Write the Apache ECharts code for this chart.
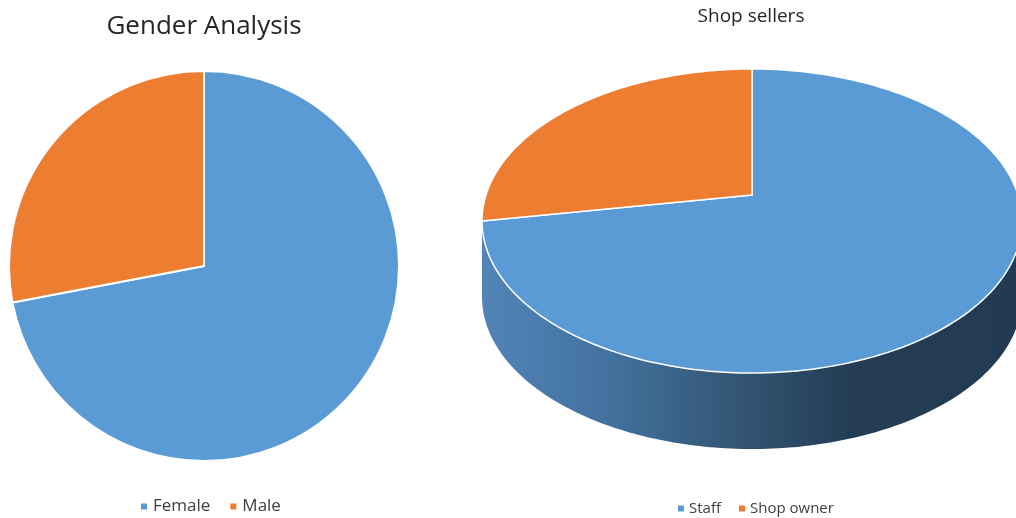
<!DOCTYPE html>
<html><head><meta charset="utf-8">
<script src="https://cdn.jsdelivr.net/npm/echarts@6/dist/echarts.min.js"></script>
<style>html,body{margin:0;padding:0;background:#fff}#c{width:1016px;height:518px}</style>
</head><body><div id="c"></div>
<script>
const genderCategories = ['Female', 'Male'];
const genderValues = [72, 28];
const shopCategories = ['Staff', 'Shop owner'];
const shopValues = [75, 25];
const sliceColors = ['#5B9BD5', '#ED7D31'];

const PIE3D = { cx: 752, cy: 221, rx: 270, ry: 152, depth: 76, vy: -26 };
function ellPt(a, dy) {
  return [PIE3D.cx + PIE3D.rx * Math.cos(a), PIE3D.cy + (dy || 0) + PIE3D.ry * Math.sin(a)];
}
const shopTotal = shopValues.reduce((s, v) => s + v, 0);
function sliceAngles(i) {
  let s = 0;
  for (let k = 0; k < i; k++) s += shopValues[k];
  const a0 = -Math.PI / 2 + s / shopTotal * 2 * Math.PI;
  const a1 = a0 + shopValues[i] / shopTotal * 2 * Math.PI;
  return [a0, a1];
}
function render3D(i) {
  return function (params, api) {
    const ang = sliceAngles(i);
    const a0 = ang[0], a1 = ang[1];
    const N = 160;
    const children = [];
    const s0 = Math.max(a0, 0), s1 = Math.min(a1, Math.PI);
    if (s1 > s0) {
      const pts = [];
      for (let k = 0; k <= N; k++) pts.push(ellPt(s0 + (s1 - s0) * k / N, 0));
      for (let k = N; k >= 0; k--) pts.push(ellPt(s0 + (s1 - s0) * k / N, PIE3D.depth));
      children.push({
        type: 'polygon', shape: { points: pts },
        style: {
          fill: new echarts.graphic.LinearGradient(0, 0, 1, 0, [
            { offset: 0, color: '#5384b8' },
            { offset: 0.25, color: '#41709c' },
            { offset: 0.5, color: '#31526f' },
            { offset: 0.68, color: '#243d55' },
            { offset: 1, color: '#223a52' }
          ])
        }
      });
    }
    const top = [[PIE3D.cx, PIE3D.cy + PIE3D.vy]];
    for (let k = 0; k <= N; k++) top.push(ellPt(a0 + (a1 - a0) * k / N, 0));
    children.push({
      type: 'polygon', shape: { points: top },
      style: { fill: sliceColors[i], stroke: '#ffffff', lineWidth: 1.5, lineJoin: 'round' }
    });
    return { type: 'group', children: children };
  };
}

const chart = echarts.init(document.getElementById('c'), null, { renderer: 'canvas' });
chart.setOption({
  animation: false,
  backgroundColor: '#ffffff',
  graphic: [
    { type: 'text', x: 204, y: 27, style: { text: 'Gender Analysis', font: '26px "Open Sans"', fill: '#262626', align: 'center', verticalAlign: 'middle' } },
    { type: 'text', x: 751, y: 17, style: { text: 'Shop sellers', font: '19px "Open Sans"', fill: '#262626', align: 'center', verticalAlign: 'middle' } }
  ],
  legend: [
    {
      data: genderCategories, left: 134, top: 493, icon: 'rect', itemWidth: 8, itemHeight: 8, itemGap: 18,
      selectedMode: false, textStyle: { fontSize: 17, fontFamily: 'Open Sans', color: '#404040' }
    },
    {
      data: shopCategories, left: 673, top: 496, icon: 'rect', itemWidth: 6, itemHeight: 6, itemGap: 18,
      selectedMode: false, textStyle: { fontSize: 15, fontFamily: 'Open Sans', color: '#404040' }
    }
  ],
  series: [
    {
      type: 'pie', name: 'Gender', center: [204, 266], radius: 195, startAngle: 90, clockwise: true,
      silent: true, label: { show: false }, labelLine: { show: false },
      itemStyle: { borderColor: '#ffffff', borderWidth: 2 },
      data: genderCategories.map((n, i) => ({ name: n, value: genderValues[i], itemStyle: { color: sliceColors[i] } }))
    },
    {
      type: 'custom', name: shopCategories[0], coordinateSystem: 'none', silent: true,
      itemStyle: { color: sliceColors[0] }, data: [shopValues[0]], renderItem: render3D(0)
    },
    {
      type: 'custom', name: shopCategories[1], coordinateSystem: 'none', silent: true,
      itemStyle: { color: sliceColors[1] }, data: [shopValues[1]], renderItem: render3D(1)
    }
  ]
});
</script></body></html>
